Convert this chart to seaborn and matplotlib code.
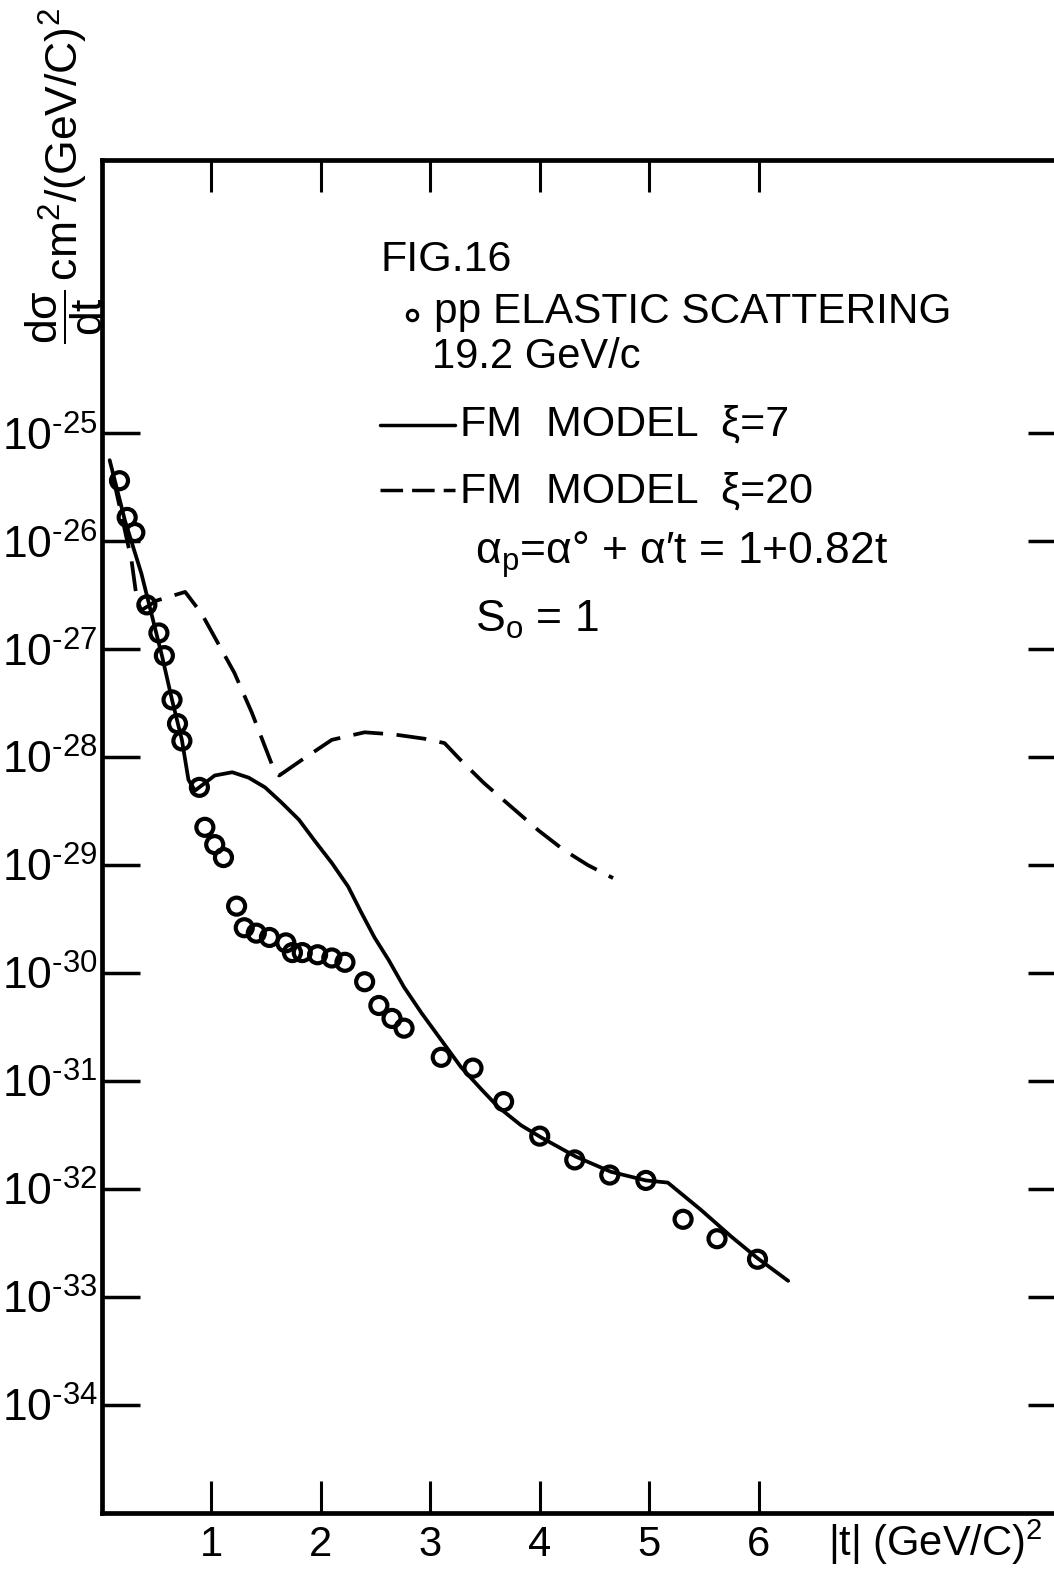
import numpy as np
import matplotlib
matplotlib.use('Agg')
import matplotlib.pyplot as plt
import seaborn as sns

# measured pp elastic scattering points, |t| in (GeV/c)^2 and log10(dsigma/dt)
t_data = [0.16, 0.23, 0.30, 0.41, 0.52, 0.57, 0.64, 0.69, 0.73, 0.89, 0.94, 1.03,
          1.11, 1.23, 1.30, 1.41, 1.53, 1.68, 1.74, 1.83, 1.97, 2.10, 2.22, 2.40,
          2.53, 2.65, 2.76, 3.10, 3.39, 3.67, 4.00, 4.32, 4.64, 4.97, 5.31, 5.62, 5.99]
log_data = [-25.44, -25.78, -25.92, -26.59, -26.85, -27.06, -27.47, -27.69, -27.85,
            -28.28, -28.65, -28.81, -28.93, -29.38, -29.58, -29.63, -29.67, -29.72,
            -29.81, -29.81, -29.83, -29.86, -29.90, -30.08, -30.30, -30.42, -30.51,
            -30.78, -30.88, -31.19, -31.51, -31.73, -31.87, -31.92, -32.28, -32.46, -32.65]

# FM model xi = 7 (solid)
t_fm7 = [0.07, 0.21, 0.36, 0.55, 0.64, 0.73, 0.79, 0.85, 1.03, 1.19, 1.34, 1.49, 1.64,
         1.80, 1.94, 2.10, 2.25, 2.37, 2.49, 2.62, 2.76, 2.92, 3.10, 3.28, 3.47, 3.62,
         3.83, 4.01, 4.33, 4.65, 4.97, 5.17, 5.47, 5.75, 5.99, 6.27]
log_fm7 = [-25.25, -25.81, -26.30, -27.07, -27.47, -27.84, -28.21, -28.31, -28.17,
           -28.14, -28.19, -28.28, -28.42, -28.58, -28.77, -28.98, -29.20, -29.44,
           -29.67, -29.88, -30.13, -30.37, -30.62, -30.87, -31.08, -31.24, -31.41,
           -31.52, -31.70, -31.84, -31.92, -31.94, -32.19, -32.44, -32.64, -32.85]

# FM model xi = 20 (dashed)
t_fm20 = [0.10, 0.27, 0.32, 0.36, 0.50, 0.76, 0.91, 1.21, 1.37, 1.58, 1.62, 1.82,
          2.10, 2.40, 2.67, 2.95, 3.13, 3.28, 3.49, 3.74, 3.99, 4.22, 4.44, 4.67]
log_fm20 = [-25.40, -26.18, -26.55, -26.64, -26.55, -26.47, -26.67, -27.22, -27.59,
            -28.14, -28.17, -28.03, -27.84, -27.77, -27.79, -27.83, -27.87, -28.03,
            -28.24, -28.46, -28.68, -28.86, -29.00, -29.12]

x_ticks = [1, 2, 3, 4, 5, 6]
y_exps = [-25, -26, -27, -28, -29, -30, -31, -32, -33, -34]

sns.set_style('ticks')
plt.rcParams['font.family'] = ['Liberation Sans', 'DejaVu Sans']
plt.rcParams['mathtext.fontset'] = 'custom'
plt.rcParams['mathtext.rm'] = 'Liberation Sans'
plt.rcParams['mathtext.it'] = 'Liberation Sans'
plt.rcParams['mathtext.default'] = 'regular'
for k in ['text.color', 'axes.labelcolor', 'xtick.color', 'ytick.color', 'axes.edgecolor']:
    plt.rcParams[k] = 'black'

W, H = 1054, 1571
fig = plt.figure(figsize=(W / 100, H / 100), dpi=100)
ax = fig.add_axes([102 / W, 1 - 1513 / H, 963 / W, (1513 - 160) / H])

sns.lineplot(x=t_fm7, y=10 ** np.array(log_fm7), ax=ax, color='black', linewidth=2.7,
             sort=False, estimator=None)
sns.lineplot(x=t_fm20, y=10 ** np.array(log_fm20), ax=ax, color='black', linewidth=2.7,
             sort=False, estimator=None, linestyle=(0, (8, 3.6)))
sns.scatterplot(x=t_data, y=10 ** np.array(log_data), ax=ax, marker='o', s=150,
                facecolor='none', edgecolor='black', linewidth=3, zorder=3)

ax.set_yscale('log')
ax.set_xlim(0, 8.8)
ax.set_ylim(1e-35, 10 ** -22.47)
ax.minorticks_off()
ax.set_xticks(x_ticks)
ax.set_xticklabels([str(v) for v in x_ticks])
ax.set_yticks([10.0 ** e for e in y_exps])
ax.set_yticklabels(['10$^{\u2010%d}$' % abs(e) for e in y_exps])
ax.set_xlabel('')
ax.set_ylabel('')

for s in ax.spines.values():
    s.set_linewidth(3.4)
    s.set_visible(True)
ax.tick_params(axis='x', direction='in', top=True, length=23, width=2.2,
               labelsize=30, pad=9)
ax.tick_params(axis='y', direction='in', right=True, length=27, width=2.5,
               labelsize=32, pad=3)

# axis titles
fig.text(64 / W, 1 - 176 / H, r'$\dfrac{d\sigma}{dt}\,cm^2/(GeV/C)^2$', rotation=90,
         ha='center', va='center', fontsize=32)
fig.text(828 / W, 1 - 1556 / H, r'|t| (GeV/C)$^2$', ha='left', va='baseline',
         fontsize=30)

# annotation block
def ft(px, py, s, size=31):
    fig.text(px / W, 1 - py / H, s, ha='left', va='center', fontsize=size)

ft(380, 260, 'FIG.16')
ft(434, 312, 'pp ELASTIC SCATTERING', size=30.5)
fig.lines.append(plt.Line2D([412 / W], [1 - 315 / H], marker='o', markersize=7.5,
                            markerfacecolor='none', markeredgecolor='black',
                            markeredgewidth=2.2, transform=fig.transFigure))
ft(432, 357, '19.2 GeV/c', size=30)
fig.lines.append(plt.Line2D([380 / W, 455 / W], [1 - 425 / H] * 2, color='black',
                            linewidth=2.5, transform=fig.transFigure))
ft(460, 425, 'FM  MODEL  ξ=7')
fig.lines.append(plt.Line2D([380 / W, 455 / W], [1 - 490 / H] * 2, color='black',
                            linewidth=2.5, linestyle=(0, (6.5, 2.6)),
                            transform=fig.transFigure))
ft(460, 492, 'FM  MODEL  ξ=20')
ft(475, 555, r'$\alpha_p$=$\alpha$° + $\alpha$′t = 1+0.82t', size=32)
ft(475, 620, r'$S_o$ = 1', size=32)

fig.savefig('out.png', dpi=100)
